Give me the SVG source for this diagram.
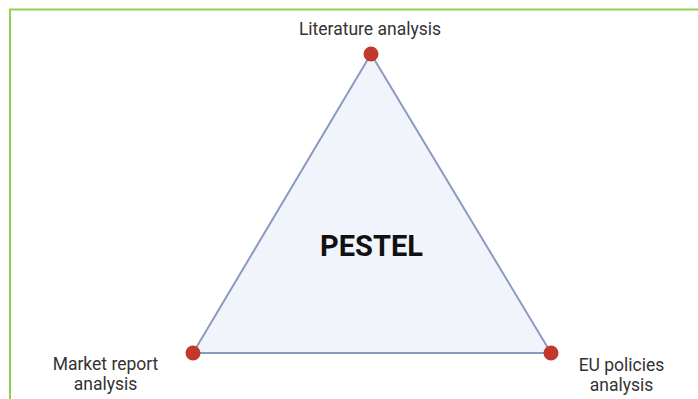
<svg xmlns="http://www.w3.org/2000/svg" width="698" height="399" viewBox="0 0 698 399">
<style>
.lbl{font-family:Roboto,"Liberation Sans",sans-serif;font-size:17.5px;fill:#333;text-anchor:middle}
.dot{fill:#c0392b}
</style>
<rect x="0" y="0" width="698" height="399" fill="#fff"/>
<rect x="10" y="9.5" width="700" height="400" fill="none" stroke="#8fd14f" stroke-width="2"/>
<g id="connectors">
<polygon points="371,54 193,353 551,353" fill="#f1f4fa" stroke="#8a9bc0" stroke-width="2" stroke-linejoin="round"/>
</g>
<g id="center"><text x="371.5" y="256" font-family="Roboto,'Liberation Sans',sans-serif" font-size="29" font-weight="bold" fill="#111" text-anchor="middle">PESTEL</text></g>
<g id="lit"><circle class="dot" cx="371" cy="54" r="7.5"/><text class="lbl" x="370" y="35">Literature analysis</text></g>
<g id="market"><circle class="dot" cx="193" cy="353" r="7.5"/><text class="lbl" x="105.5" y="370">Market report</text><text class="lbl" x="105.5" y="390">analysis</text></g>
<g id="eu"><circle class="dot" cx="551" cy="353" r="7.5"/><text class="lbl" x="621.5" y="371">EU policies</text><text class="lbl" x="621.5" y="391">analysis</text></g>
</svg>
